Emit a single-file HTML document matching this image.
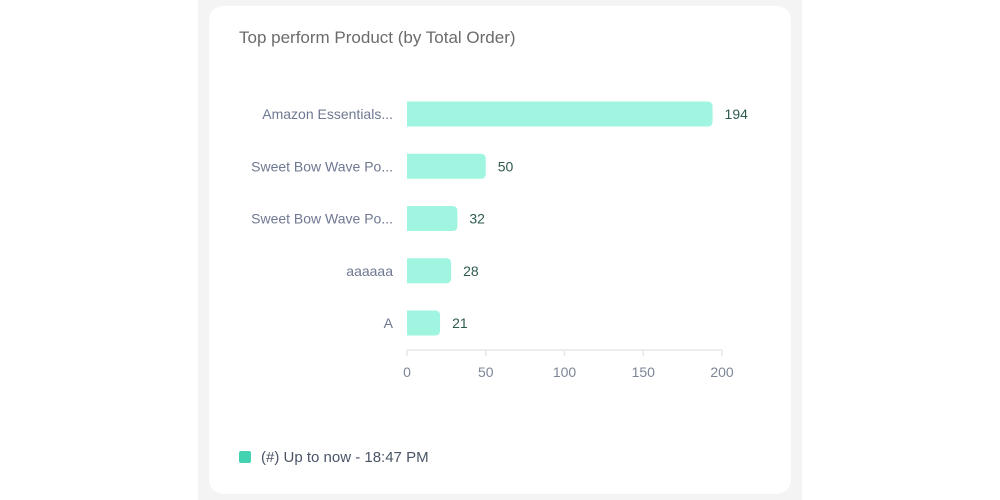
<!DOCTYPE html>
<html><head><meta charset="utf-8"><style>
html,body{margin:0;padding:0;background:#fff;}
body{width:1000px;height:500px;position:relative;overflow:hidden;font-family:"Liberation Sans",sans-serif;}
#bg{position:absolute;left:198px;top:0;width:604px;height:500px;background:#f4f4f4;}
#card{position:absolute;left:209px;top:6px;width:582px;height:488px;background:#fff;border-radius:14px;}
#title{position:absolute;left:239px;top:28px;font-size:17px;color:#6b6b6b;}
#legend{position:absolute;left:239px;top:449px;font-size:15px;color:#4a5466;}
#legend span.sw{display:inline-block;width:12px;height:12px;background:#43d3b3;border-radius:2px;vertical-align:-1px;margin-right:10px;}
svg{position:absolute;left:0;top:0;}
</style></head><body>
<div id="bg"></div>
<div id="card"></div>
<div id="title">Top perform Product (by Total Order)</div>
<svg id="chart" width="1000" height="500"></svg>
<div id="legend"><span class="sw"></span>(#) Up to now - 18:47 PM</div>
<script>
const categories=["Amazon Essentials...","Sweet Bow Wave Po...","Sweet Bow Wave Po...","aaaaaa","A"];
const values=[194,50,32,28,21];
const ticks=[0,50,100,150,200];
const NS="http://www.w3.org/2000/svg";
const svg=document.getElementById('chart');
const x0=407,x1=722,xmax=200,yTop=114,step=52.25,bh=25,axisY=350;
const xs=v=>x0+(x1-x0)*v/xmax;
const ys=i=>yTop+i*step;
function mk(t,a){const e=document.createElementNS(NS,t);for(const k in a)e.setAttribute(k,a[k]);svg.appendChild(e);return e;}
const ax=mk('line',{x1:x0,x2:x1,y1:axisY,y2:axisY,stroke:'#e6e7ea','stroke-width':1.5});


ticks.forEach(t=>{
 const l=mk('line',{x1:xs(t),x2:xs(t),y1:axisY,y2:axisY+6,stroke:'#e6e7ea','stroke-width':1.5});
 
 
 const tx=mk('text',{x:xs(t),y:axisY+27,'text-anchor':'middle','font-size':14,fill:'#7d8597','font-family':'Liberation Sans, sans-serif'});
 tx.textContent=t;
 
 
});
values.forEach((v,i)=>{
 const y=ys(i),w=xs(v)-x0,r=Math.min(5,w/2);
 const p=mk('path',{d:`M${x0},${y-bh/2}H${x0+w-r}Q${x0+w},${y-bh/2} ${x0+w},${y-bh/2+r}V${y+bh/2-r}Q${x0+w},${y+bh/2} ${x0+w-r},${y+bh/2}H${x0}Z`,fill:'#9ff5df'});
 
 
 const vl=mk('text',{x:xs(v)+12,y:y+5,'font-size':14,fill:'#2f5a50','font-family':'Liberation Sans, sans-serif'});
 vl.textContent=v;
 
 
 const cl=mk('text',{x:393,y:y+5,'text-anchor':'end','font-size':14,fill:'#6e7891','font-family':'Liberation Sans, sans-serif'});
 cl.textContent=categories[i];
 
 
});
</script>
</body></html>
